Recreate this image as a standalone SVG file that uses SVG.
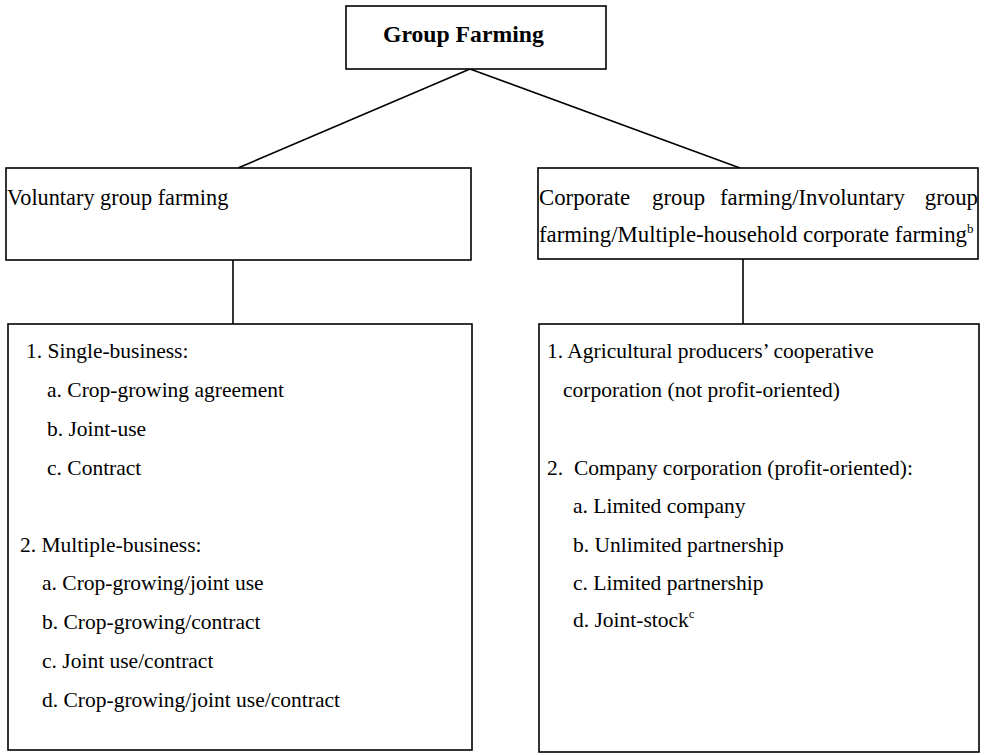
<svg xmlns="http://www.w3.org/2000/svg" width="987" height="755" viewBox="0 0 987 755">
<style>
  .box { fill: #fff; stroke: #000; stroke-width: 1.6; }
  .t { font-family: "Liberation Serif", "Times New Roman", serif; font-size: 21.5px; fill: #000; }
  .h { font-size: 22.3px; }
  .h2 { font-size: 22.8px; }
  .b { font-weight: bold; font-size: 23.7px; }
  .sup { font-size: 13px; }
  .conn line { stroke: #000; stroke-width: 1.6; }
</style>
<rect width="987" height="755" fill="#fff"/>
<g class="conn" id="connectors">
  <line x1="470" y1="69" x2="238" y2="168"/>
  <line x1="470" y1="69" x2="740" y2="168"/>
  <line x1="233" y1="260" x2="233" y2="324"/>
  <line x1="743" y1="259" x2="743" y2="324"/>
</g>
<g id="root">
  <rect class="box" x="346" y="6" width="260" height="63"/>
  <text class="t b" x="383" y="42">Group Farming</text>
</g>
<g id="voluntary">
  <rect class="box" x="6" y="168" width="465" height="92"/>
  <text class="t h" x="7" y="205">Voluntary group farming</text>
</g>
<g id="corporate">
  <rect class="box" x="538" y="168" width="440" height="91"/>
  <text class="t h2" x="539" y="205">Corporate</text>
  <text class="t h2" x="652" y="205">group</text>
  <text class="t h2" x="720" y="205">farming/Involuntary</text>
  <text class="t h2" x="978" y="205" text-anchor="end">group</text>
  <text class="t h2" x="539" y="242">farming/Multiple-household corporate farming<tspan class="sup" dy="-9">b</tspan></text>
</g>
<g id="voluntary-types">
  <rect class="box" x="8" y="324" width="464" height="426"/>
  <text class="t" x="26" y="358">1. Single-business:</text>
  <text class="t" x="47" y="397">a. Crop-growing agreement</text>
  <text class="t" x="47" y="436">b. Joint-use</text>
  <text class="t" x="47" y="475">c. Contract</text>
  <text class="t" x="20" y="552">2. Multiple-business:</text>
  <text class="t" x="42" y="590">a. Crop-growing/joint use</text>
  <text class="t" x="42" y="629">b. Crop-growing/contract</text>
  <text class="t" x="42" y="668">c. Joint use/contract</text>
  <text class="t" x="42" y="707">d. Crop-growing/joint use/contract</text>
</g>
<g id="corporate-types">
  <rect class="box" x="539" y="324" width="440" height="428"/>
  <text class="t" x="547" y="358">1. Agricultural producers’ cooperative</text>
  <text class="t" x="563" y="397">corporation (not profit-oriented)</text>
  <text class="t" x="547" y="475" xml:space="preserve">2.  Company corporation (profit-oriented):</text>
  <text class="t" x="573" y="513">a. Limited company</text>
  <text class="t" x="573" y="552">b. Unlimited partnership</text>
  <text class="t" x="573" y="590">c. Limited partnership</text>
  <text class="t" x="573" y="627">d. Joint-stock<tspan class="sup" dy="-9">c</tspan></text>
</g>
</svg>
